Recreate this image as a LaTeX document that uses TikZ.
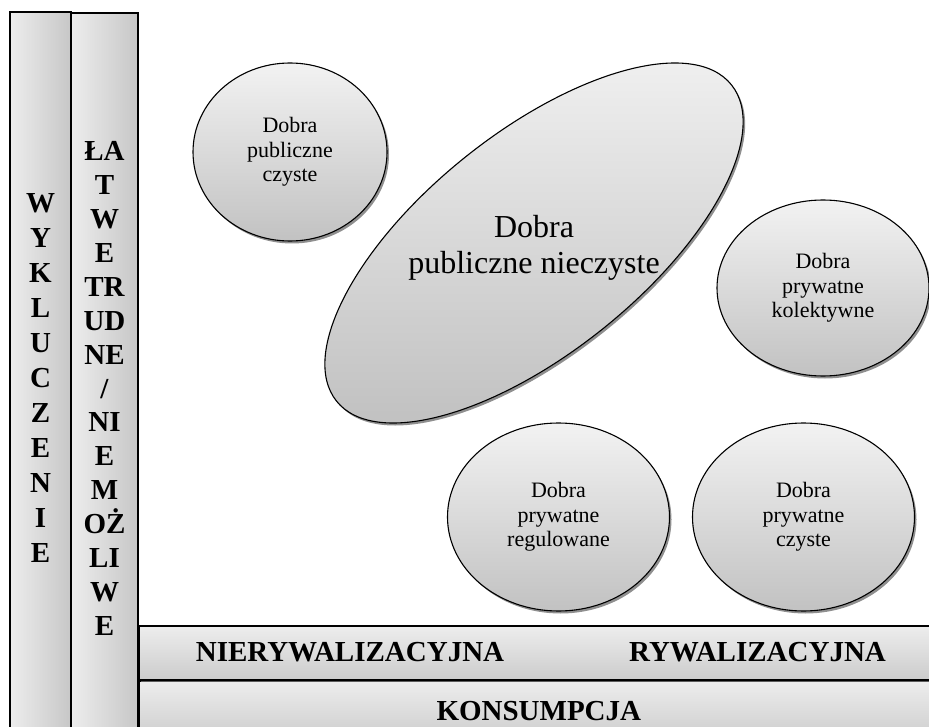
\documentclass[tikz,border=0pt]{standalone}
\usepackage{fontspec}
\setmainfont{Liberation Serif}
\usetikzlibrary{shapes.geometric,shadows}

\begin{document}
\begin{tikzpicture}[x=1pt, y=-1pt,
  col/.style={draw, line width=1.6pt, left color=black!7, right color=black!22,
              minimum height=760, inner sep=0pt, anchor=north},
  bar/.style={draw, line width=1.6pt, top color=black!7, bottom color=black!20,
              minimum width=800, inner sep=0pt, anchor=north west},
  lbl/.style={font=\fontsize{29}{35}\selectfont\bfseries, align=center, inner sep=0pt},
  cien/.style={drop shadow={shadow xshift=2pt, shadow yshift=-2.5pt, fill=black!55, opacity=0.8}},
  dobro/.style={ellipse, draw, line width=1.1pt, top color=black!5, bottom color=black!24,
                inner sep=0pt, align=center, font=\fontsize{22}{24.5}\selectfont, cien}]
\clip (0,0) rectangle (929,727);
% wykluczenie
\node[col, minimum width=61] (wyk) at (40.5,11) {};
\node[col, minimum width=67] (latwe) at (104.5,12) {};
\node[lbl] (wyktxt) at (40.5,378) {W\\Y\\K\\L\\U\\C\\Z\\E\\N\\I\\E};
\node[lbl, font=\fontsize{29}{33.9}\selectfont\bfseries] (latwetxt) at (104.5,388.5)
  {ŁA\\T\\W\\E\\TR\\UD\\NE\\/\\NI\\E\\M\\OŻ\\LI\\W\\E};
% konsumpcja
\node[bar, minimum height=60, font=\fontsize{29}{35}\selectfont\bfseries] (kons) at (138,680) {KONSUMPCJA};
\node[bar, minimum height=54, cien] (rywal) at (138,625) {};
\node[lbl] (nierywtxt) at (350,652) {NIERYWALIZACYJNA};
\node[lbl] (rywtxt) at (757.5,652) {RYWALIZACYJNA};
% dobra
\node[dobro, minimum width=194, minimum height=178] (pubcz) at (290,152) {Dobra\\publiczne\\czyste};
\node[dobro, minimum width=506, minimum height=220, rotate=38.7] (pubniecz) at (534,243) {};
\node[align=center, inner sep=0pt, font=\fontsize{32}{36}\selectfont] (pubnieczt) at (534,248)
  {Dobra\\publiczne nieczyste};
\node[dobro, minimum width=212, minimum height=176] (prkol) at (823,288) {Dobra\\prywatne\\kolektywne};
\node[dobro, minimum width=222, minimum height=188] (prreg) at (558.5,517) {Dobra\\prywatne\\regulowane};
\node[dobro, minimum width=222, minimum height=188] (prcz) at (803.5,517) {Dobra\\prywatne\\czyste};
\end{tikzpicture}
\end{document}
